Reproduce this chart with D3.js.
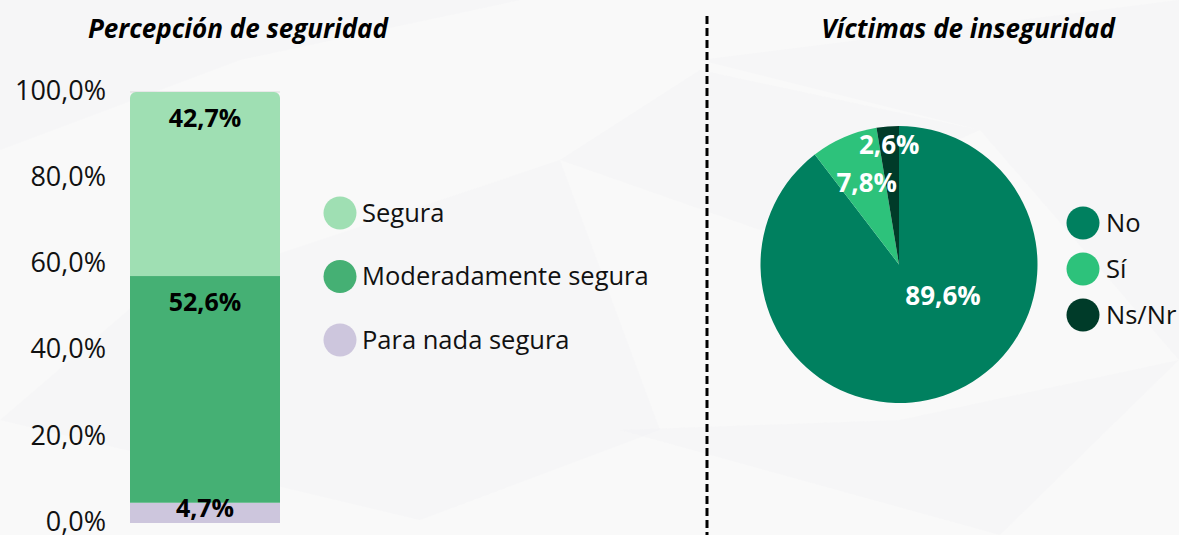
<!DOCTYPE html>
<html>
<head>
<meta charset="utf-8">
<script src="https://cdn.jsdelivr.net/npm/d3@7"></script>
<style>
  body { margin: 0; background: #f9f9f9; }
  svg { display: block; font-family: "Open Sans", "Noto Sans", sans-serif; }
</style>
</head>
<body>
<svg id="chart" width="1179" height="535"></svg>
<script>
// bar chart data (percepción)
var barCategories = ["Para nada segura", "Moderadamente segura", "Segura"];
var barValues = [4.7, 52.6, 42.7];
var barColors = ["#cdc6dd", "#45b074", "#9fdfb3"];
var barTicks = [0, 20, 40, 60, 80, 100];

// pie data (víctimas)
var pieCategories = ["No", "Sí", "Ns/Nr"];
var pieValues = [89.6, 7.8, 2.6];
var pieColors = ["#00805f", "#2dc27b", "#003b29"];

var locale = d3.formatLocale({decimal: ",", thousands: ".", grouping: [3], currency: ["", "€"]});
var fmt = locale.format(".1f");

var svg = d3.select("#chart");

// faint background shapes
var bg = svg.append("g");
var polys = [
	[[0,150],[240,60],[520,0],[0,0]],
	[[0,420],[420,520],[660,430],[560,160],[140,300]],
	[[560,160],[700,70],[980,130],[760,230]],
	[[700,60],[1179,0],[1179,360],[980,130]],
	[[620,430],[1000,535],[1179,360],[900,420]]
];
bg.selectAll("polygon").data(polys).enter().append("polygon")
	.attr("points", function(d) { return d.map(function(p) { return p.join(","); }).join(" "); })
	.attr("fill", "#f2f2f4")
	.attr("opacity", 0.4);

//////// left: stacked bar
var y = d3.scaleLinear().domain([0, 100]).range([523, 92]);
var barX = 130, barW = 150;

svg.append("text")
	.attr("x", 238).attr("y", 38)
	.attr("text-anchor", "middle")
	.style("font-size", "26px").style("font-weight", "bold").style("font-style", "italic")
	.text("Percepción de seguridad");

var yAxis = d3.axisLeft(y).tickValues(barTicks).tickSize(0).tickPadding(24)
	.tickFormat(function(d) { return fmt(d) + "%"; });
var ax = svg.append("g").attr("transform", "translate(" + barX + ",0)").call(yAxis);
ax.select(".domain").remove();
ax.selectAll("text").style("font-size", "27px").style("font-family", "\"Open Sans\", sans-serif")
	.attr("fill", "#111").attr("dy", "0.27em");

// stack the segments
var stacked = [];
var acc = 0;
barValues.forEach(function(v, i) {
	stacked.push({name: barCategories[i], v: v, y0: acc, y1: acc + v, color: barColors[i]});
	acc += v;
});

svg.append("clipPath").attr("id", "barclip")
	.append("rect")
	.attr("x", barX).attr("y", y(100))
	.attr("width", barW).attr("height", y(0) - y(100) + 10)
	.attr("rx", 6);

svg.append("line")
	.attr("x1", barX).attr("x2", barX + barW)
	.attr("y1", y(100)).attr("y2", y(100))
	.attr("stroke", "#d9d9d9").attr("stroke-width", 1);

var segs = svg.append("g").attr("clip-path", "url(#barclip)");
segs.selectAll("rect").data(stacked).enter().append("rect")
	.attr("x", barX)
	.attr("y", function(d) { return y(d.y1); })
	.attr("width", barW)
	.attr("height", function(d) { return y(d.y0) - y(d.y1); })
	.attr("fill", function(d) { return d.color; });

svg.selectAll("text.barlab").data(stacked).enter().append("text")
	.attr("class", "barlab")
	.attr("x", barX + barW / 2)
	.attr("y", function(d) { return Math.min(y(d.y1) + 35, y(d.y0) - 6); })
	.attr("text-anchor", "middle")
	.style("font-size", "25px").style("font-weight", "bold")
	.attr("fill", "#000")
	.text(function(d) { return fmt(d.v) + "%"; });

// legend (top item first)
var barLegend = svg.selectAll("g.barleg").data(stacked.slice().reverse()).enter().append("g")
	.attr("class", "barleg")
	.attr("transform", function(d, i) { return "translate(340, " + (213 + i * 63.5) + ")"; });
barLegend.append("circle").attr("r", 16.5).attr("fill", function(d) { return d.color; });
barLegend.append("text")
	.attr("x", 22).attr("dy", "0.35em")
	.style("font-size", "25.5px").attr("fill", "#111")
	.text(function(d) { return d.name; });

// separator
svg.append("line")
	.attr("x1", 707).attr("x2", 707)
	.attr("y1", 16).attr("y2", 535)
	.attr("stroke", "#000").attr("stroke-width", 3)
	.attr("stroke-dasharray", "8,4");

//////// right: pie
svg.append("text")
	.attr("x", 968).attr("y", 38)
	.attr("text-anchor", "middle")
	.style("font-size", "26px").style("font-weight", "bold").style("font-style", "italic")
	.text("Víctimas de inseguridad");

var cx = 899, cy = 264.5, R = 138.5;
var pie = d3.pie().sort(null).value(function(d) { return d; });
var arc = d3.arc().innerRadius(0).outerRadius(R);
var arcs = pie(pieValues);

var pg = svg.append("g").attr("transform", "translate(" + cx + "," + cy + ")");
pg.selectAll("path").data(arcs).enter().append("path")
	.attr("d", arc)
	.attr("fill", function(d, i) { return pieColors[i]; });

// label radius per slice (big slice label sits lower-right)
var labelArcs = [
	d3.arc().innerRadius(0).outerRadius(R * 0.42),
	d3.arc().innerRadius(R * 0.6).outerRadius(R * 0.72),
	d3.arc().innerRadius(R * 0.82).outerRadius(R * 0.92)
];
pg.selectAll("text").data(arcs).enter().append("text")
	.attr("transform", function(d, i) {
		var c = labelArcs[i].centroid(d);
		if (i == 0) c = [44, 31];
		if (i == 1) c = [c[0] + 4, c[1] + 2];
		return "translate(" + c[0] + "," + c[1] + ")";
	})
	.attr("text-anchor", "middle")
	.attr("dy", "0.35em")
	.style("font-size", "26px").style("font-weight", "bold")
	.attr("fill", "#fff")
	.text(function(d) { return fmt(d.data) + "%"; });

var pieLegend = svg.selectAll("g.pieleg").data(pieCategories).enter().append("g")
	.attr("class", "pieleg")
	.attr("transform", function(d, i) { return "translate(1083, " + (223 + i * 46) + ")"; });
pieLegend.append("circle").attr("r", 16.5).attr("fill", function(d, i) { return pieColors[i]; });
pieLegend.append("text")
	.attr("x", 23).attr("dy", "0.35em")
	.style("font-size", "25.5px").attr("fill", "#111")
	.text(function(d) { return d; });
</script>
</body>
</html>
